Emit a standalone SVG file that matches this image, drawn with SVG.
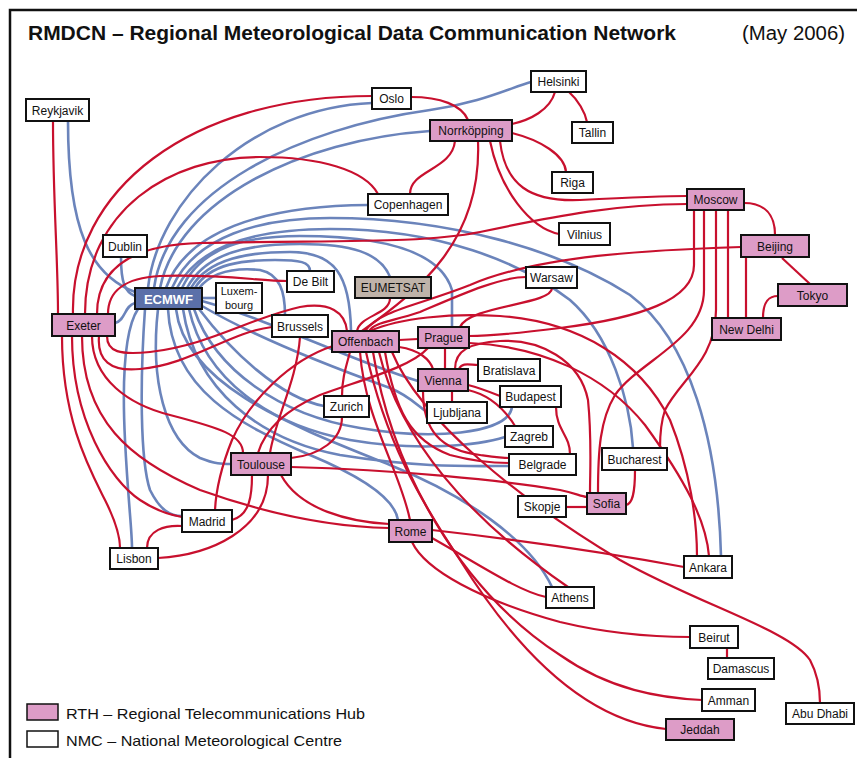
<svg xmlns="http://www.w3.org/2000/svg" width="857" height="758" viewBox="0 0 857 758">
<style>
.r{fill:none;stroke:#c8102e;stroke-width:2.2}
.b{fill:none;stroke:#6b84bb;stroke-width:2.6}
.n rect{fill:#fff;stroke:#111;stroke-width:2}
.h rect{fill:#dd9cc7;stroke:#111;stroke-width:2}
text{font-family:"Liberation Sans",Arial,Helvetica,sans-serif;fill:#111}
.n text,.h text{font-size:12px;text-anchor:middle}
</style>
<rect x="0" y="0" width="857" height="758" fill="#fff"/>
<rect x="10" y="10" width="860" height="760" fill="none" stroke="#111" stroke-width="2.5"/>
<text x="28" y="40" font-size="20" font-weight="bold" textLength="648" lengthAdjust="spacingAndGlyphs">RMDCN – Regional Meteorological Data Communication Network</text>
<text x="742" y="40" font-size="20" textLength="103" lengthAdjust="spacingAndGlyphs">(May 2006)</text>

<g id="connectors">
<g id="blue">
<path class="b" d="M68,121 C68,230 90,275 135,292"/>
<path class="b" d="M121,257 C121,283 125,292 135,296"/>
<path class="b" d="M115,323 C126,320 124,306 135,303"/>
<path class="b" d="M202,298 L216,298"/>
<path class="b" d="M138,309 C124,330 122,380 125,440 C128,500 132,530 132,548"/>
<path class="b" d="M145,309 C140,380 140,460 150,490 C160,510 170,516 182,516"/>
<path class="b" d="M158,309 C150,380 165,440 200,458 C215,464 222,464 231,464"/>
<path class="b" d="M168,309 C172,390 240,425 310,455 C365,478 395,500 398,520"/>
<path class="b" d="M176,309 C185,385 290,425 390,465 C465,495 530,540 552,587"/>
<path class="b" d="M183,309 C195,390 260,440 340,455 C420,468 470,466 509,466"/>
<path class="b" d="M189,309 C205,380 270,425 350,440 C420,452 480,445 505,437"/>
<path class="b" d="M194,309 C215,370 280,415 360,428 C430,440 508,435 512,407"/>
<path class="b" d="M199,309 C230,350 280,398 324,406"/>
<path class="b" d="M202,306 C260,340 340,370 390,388 C410,396 420,408 427,412"/>
<path class="b" d="M202,301 C270,320 350,360 418,381"/>
<path class="b" d="M148,288 C158,200 250,108 372,103"/>
<path class="b" d="M154,288 C168,190 300,128 430,110 C480,103 510,88 531,82"/>
<path class="b" d="M160,288 C178,200 300,140 430,131"/>
<path class="b" d="M166,288 C186,232 260,206 368,205"/>
<path class="b" d="M172,288 C195,236 260,218 330,218 C450,218 560,250 630,295 C690,340 718,440 721,556"/>
<path class="b" d="M177,288 C200,243 260,229 330,229 C440,229 520,262 570,300 C610,335 630,400 633,448"/>
<path class="b" d="M182,288 C202,245 250,236 300,236 C380,236 440,250 452,290 L452,327"/>
<path class="b" d="M187,288 C206,252 250,244 300,244 C350,244 380,252 390,277"/>
<path class="b" d="M191,288 C208,258 250,252 290,252 C335,252 350,275 351,331"/>
<path class="b" d="M195,288 C210,263 245,260 275,260 C300,260 310,262 310,271"/>
<path class="b" d="M199,288 C214,270 240,268 260,270 C280,274 285,292 285,315"/>
</g>
<g id="red">
<path class="r" d="M53,121 C53,200 58,260 58,314"/>
<path class="r" d="M73,314 C70,190 190,96 372,96"/>
<path class="r" d="M85,314 C85,210 170,157 260,157 C320,157 365,170 378,194"/>
<path class="r" d="M97,314 C97,270 130,245 200,243 C330,240 420,244 480,232 C560,215 620,204 687,204"/>
<path class="r" d="M108,314 C108,290 125,278 160,276 C220,274 260,281 287,281"/>
<path class="r" d="M107,336 C107,352 120,355 150,352 C210,345 250,318 300,307 C330,302 345,312 347,331"/>
<path class="r" d="M99,336 C97,360 110,372 140,369 C190,365 230,332 272,327"/>
<path class="r" d="M62,336 C62,420 90,470 105,500 C115,520 120,535 120,548"/>
<path class="r" d="M72,336 C72,420 110,480 140,500 C155,510 170,515 182,517"/>
<path class="r" d="M82,336 C82,420 130,460 200,490 C270,515 330,527 389,528"/>
<path class="r" d="M92,336 C92,380 130,405 170,415 C220,428 243,435 243,453"/>
<path class="r" d="M411,97 C440,97 462,105 468,120"/>
<path class="r" d="M410,194 C410,170 452,170 455,141"/>
<path class="r" d="M555,92 C550,110 530,120 512,124"/>
<path class="r" d="M569,92 C578,100 585,112 587,122"/>
<path class="r" d="M512,133 C540,140 565,155 566,172"/>
<path class="r" d="M490,141 C500,190 530,228 559,234"/>
<path class="r" d="M500,141 C505,185 530,202 580,200 C620,198 660,196 687,196"/>
<path class="r" d="M478,141 C482,240 420,290 362,331"/>
<path class="r" d="M744,203 C765,203 775,215 775,235"/>
<path class="r" d="M741,247 C650,250 540,255 470,285 C420,305 380,310 365,331"/>
<path class="r" d="M526,277 C500,277 460,295 420,312 C390,322 375,322 369,331"/>
<path class="r" d="M552,288 C552,305 470,305 460,327"/>
<path class="r" d="M390,298 C390,315 360,315 357,331"/>
<path class="r" d="M694,210 L694,265 C694,300 640,318 560,328 C520,333 490,336 469,336"/>
<path class="r" d="M704,210 L704,290 C704,340 640,360 615,395 C600,420 598,450 598,493"/>
<path class="r" d="M716,210 L716,310 C716,360 680,380 665,410 C660,425 660,440 660,448"/>
<path class="r" d="M728,210 L728,318"/>
<path class="r" d="M746,258 L746,318"/>
<path class="r" d="M782,258 L810,284"/>
<path class="r" d="M778,296 C768,296 763,302 763,318"/>
<path class="r" d="M399,340 L418,339"/>
<path class="r" d="M399,347 C420,350 430,360 433,369"/>
<path class="r" d="M350,352 C345,370 342,380 342,396"/>
<path class="r" d="M342,417 C342,440 320,455 291,458"/>
<path class="r" d="M333,346 C290,360 250,400 232,440 C222,465 216,490 215,510"/>
<path class="r" d="M300,337 C297,380 275,420 270,453"/>
<path class="r" d="M428,348 C410,368 360,380 320,395 C285,410 265,430 258,453"/>
<path class="r" d="M232,520 C250,515 252,495 252,475"/>
<path class="r" d="M268,475 C268,530 210,555 158,558"/>
<path class="r" d="M182,526 C165,525 147,530 147,548"/>
<path class="r" d="M281,475 C300,510 350,522 389,524"/>
<path class="r" d="M291,467 C400,470 500,480 560,490 C575,493 580,496 587,497"/>
<path class="r" d="M566,507 L587,507"/>
<path class="r" d="M635,470 C635,495 632,504 626,505"/>
<path class="r" d="M445,348 L445,369"/>
<path class="r" d="M452,391 L452,402"/>
<path class="r" d="M459,369 C462,362 470,365 478,365"/>
<path class="r" d="M468,385 C480,388 490,392 500,396"/>
<path class="r" d="M468,390 C490,395 505,410 515,426"/>
<path class="r" d="M556,407 C556,430 570,435 570,454"/>
<path class="r" d="M455,369 C455,350 470,343 500,341 C540,339 580,360 588,400 C592,440 590,470 590,493"/>
<path class="r" d="M370,331 C400,318 450,313 500,316 C580,322 640,360 670,420 C690,470 697,520 697,556"/>
<path class="r" d="M469,343 C540,346 605,375 645,425 C685,480 706,520 709,556"/>
<path class="r" d="M423,391 C423,430 440,450 480,455 C495,457 502,458 509,458"/>
<path class="r" d="M385,352 C395,410 410,440 450,455 C480,463 500,463 509,463"/>
<path class="r" d="M360,352 C365,420 400,470 410,520"/>
<path class="r" d="M379,352 C400,440 470,520 568,587"/>
<path class="r" d="M373,352 C392,470 460,590 560,655 C610,690 660,698 702,700"/>
<path class="r" d="M366,352 C385,440 420,500 460,560 C510,640 580,720 666,729"/>
<path class="r" d="M392,352 C420,420 520,500 620,560 C700,605 790,630 810,660 C818,675 820,690 820,703"/>
<path class="r" d="M412,542 C425,570 480,600 560,622 C610,634 650,637 690,637"/>
<path class="r" d="M432,538 C480,565 520,592 546,597"/>
<path class="r" d="M432,530 C520,540 620,555 684,567"/>
<path class="r" d="M727,648 L727,658"/>
</g>
</g>

<g id="nodes">
<g id="reykjavik" class="n"><rect x="26" y="99" width="63" height="22"/><text x="57.5" y="115">Reykjavik</text></g>
<g id="oslo" class="n"><rect x="372" y="88" width="39" height="21"/><text x="391.5" y="103">Oslo</text></g>
<g id="helsinki" class="n"><rect x="531" y="71" width="55" height="21"/><text x="558.5" y="86">Helsinki</text></g>
<g id="norrkoping" class="h"><rect x="430" y="120" width="82" height="21"/><text x="471" y="135">Norrköpping</text></g>
<g id="tallin" class="n"><rect x="572" y="122" width="41" height="21"/><text x="592.5" y="137">Tallin</text></g>
<g id="riga" class="n"><rect x="552" y="172" width="41" height="21"/><text x="572.5" y="187">Riga</text></g>
<g id="copenhagen" class="n"><rect x="368" y="194" width="80" height="21"/><text x="408" y="209">Copenhagen</text></g>
<g id="moscow" class="h"><rect x="687" y="189" width="57" height="21"/><text x="715.5" y="204">Moscow</text></g>
<g id="vilnius" class="n"><rect x="559" y="223" width="51" height="22"/><text x="584.5" y="239">Vilnius</text></g>
<g id="beijing" class="h"><rect x="741" y="235" width="68" height="22"/><text x="775" y="251">Beijing</text></g>
<g id="dublin" class="n"><rect x="103" y="235" width="44" height="22"/><text x="125" y="251">Dublin</text></g>
<g id="ecmwf"><rect x="135" y="288" width="67" height="21" fill="#5b70a9" stroke="#111" stroke-width="2"/><text x="168.5" y="303.5" font-size="13" font-weight="bold" text-anchor="middle" style="fill:#fff">ECMWF</text></g>
<g id="luxembourg" class="n"><rect x="216" y="283" width="46" height="30"/><text x="239" y="295" style="font-size:11px">Luxem-</text><text x="239" y="308.5" style="font-size:11px">bourg</text></g>
<g id="debilt" class="n"><rect x="287" y="271" width="47" height="21"/><text x="310.5" y="286">De Bilt</text></g>
<g id="eumetsat"><rect x="355" y="277" width="76" height="21" fill="#bfb3a9" stroke="#111" stroke-width="2"/><text x="393" y="292" font-size="12" text-anchor="middle">EUMETSAT</text></g>
<g id="exeter" class="h"><rect x="52" y="314" width="63" height="22"/><text x="83.5" y="330">Exeter</text></g>
<g id="brussels" class="n"><rect x="272" y="315" width="56" height="22"/><text x="300" y="331">Brussels</text></g>
<g id="offenbach" class="h"><rect x="332" y="331" width="67" height="21"/><text x="365.5" y="346">Offenbach</text></g>
<g id="prague" class="h"><rect x="418" y="327" width="51" height="21"/><text x="443.5" y="342">Prague</text></g>
<g id="warsaw" class="n"><rect x="526" y="267" width="51" height="21"/><text x="551.5" y="282">Warsaw</text></g>
<g id="tokyo" class="h"><rect x="778" y="284" width="69" height="22"/><text x="812.5" y="300">Tokyo</text></g>
<g id="newdelhi" class="h"><rect x="712" y="318" width="69" height="22"/><text x="746.5" y="334">New Delhi</text></g>
<g id="vienna" class="h"><rect x="418" y="369" width="50" height="22"/><text x="443" y="385">Vienna</text></g>
<g id="bratislava" class="n"><rect x="478" y="359" width="62" height="22"/><text x="509" y="375">Bratislava</text></g>
<g id="budapest" class="n"><rect x="500" y="386" width="61" height="21"/><text x="530.5" y="401">Budapest</text></g>
<g id="ljubljana" class="n"><rect x="427" y="402" width="60" height="21"/><text x="457" y="417">Ljubljana</text></g>
<g id="zurich" class="n"><rect x="324" y="396" width="45" height="21"/><text x="346.5" y="411">Zurich</text></g>
<g id="zagreb" class="n"><rect x="505" y="426" width="48" height="21"/><text x="529" y="441">Zagreb</text></g>
<g id="belgrade" class="n"><rect x="509" y="454" width="67" height="21"/><text x="542.5" y="469">Belgrade</text></g>
<g id="bucharest" class="n"><rect x="602" y="448" width="65" height="22"/><text x="634.5" y="464">Bucharest</text></g>
<g id="toulouse" class="h"><rect x="231" y="453" width="60" height="22"/><text x="261" y="469">Toulouse</text></g>
<g id="sofia" class="h"><rect x="587" y="493" width="39" height="21"/><text x="606.5" y="508">Sofia</text></g>
<g id="skopje" class="n"><rect x="518" y="496" width="48" height="21"/><text x="542" y="511">Skopje</text></g>
<g id="madrid" class="n"><rect x="182" y="510" width="50" height="22"/><text x="207" y="526">Madrid</text></g>
<g id="lisbon" class="n"><rect x="110" y="548" width="48" height="21"/><text x="134" y="563">Lisbon</text></g>
<g id="rome" class="h"><rect x="389" y="520" width="43" height="22"/><text x="410.5" y="536">Rome</text></g>
<g id="ankara" class="n"><rect x="684" y="556" width="48" height="22"/><text x="708" y="572">Ankara</text></g>
<g id="athens" class="n"><rect x="546" y="587" width="48" height="21"/><text x="570" y="602">Athens</text></g>
<g id="beirut" class="n"><rect x="690" y="626" width="48" height="22"/><text x="714" y="642">Beirut</text></g>
<g id="damascus" class="n"><rect x="708" y="658" width="66" height="21"/><text x="741" y="673">Damascus</text></g>
<g id="amman" class="n"><rect x="702" y="689" width="53" height="22"/><text x="728.5" y="705">Amman</text></g>
<g id="jeddah" class="h"><rect x="666" y="719" width="68" height="21"/><text x="700" y="734">Jeddah</text></g>
<g id="abudhabi" class="n"><rect x="786" y="703" width="68" height="21"/><text x="820" y="718">Abu Dhabi</text></g>
</g>

<g id="legend">
<rect x="27" y="704" width="31" height="16" fill="#dd9cc7" stroke="#111" stroke-width="1.5"/>
<rect x="27" y="731" width="31" height="16" fill="#fff" stroke="#111" stroke-width="1.5"/>
<text x="66" y="719" font-size="15" textLength="299" lengthAdjust="spacingAndGlyphs">RTH – Regional Telecommunications Hub</text>
<text x="66" y="746" font-size="15" textLength="276" lengthAdjust="spacingAndGlyphs">NMC – National Meteorological Centre</text>
</g>
</svg>
